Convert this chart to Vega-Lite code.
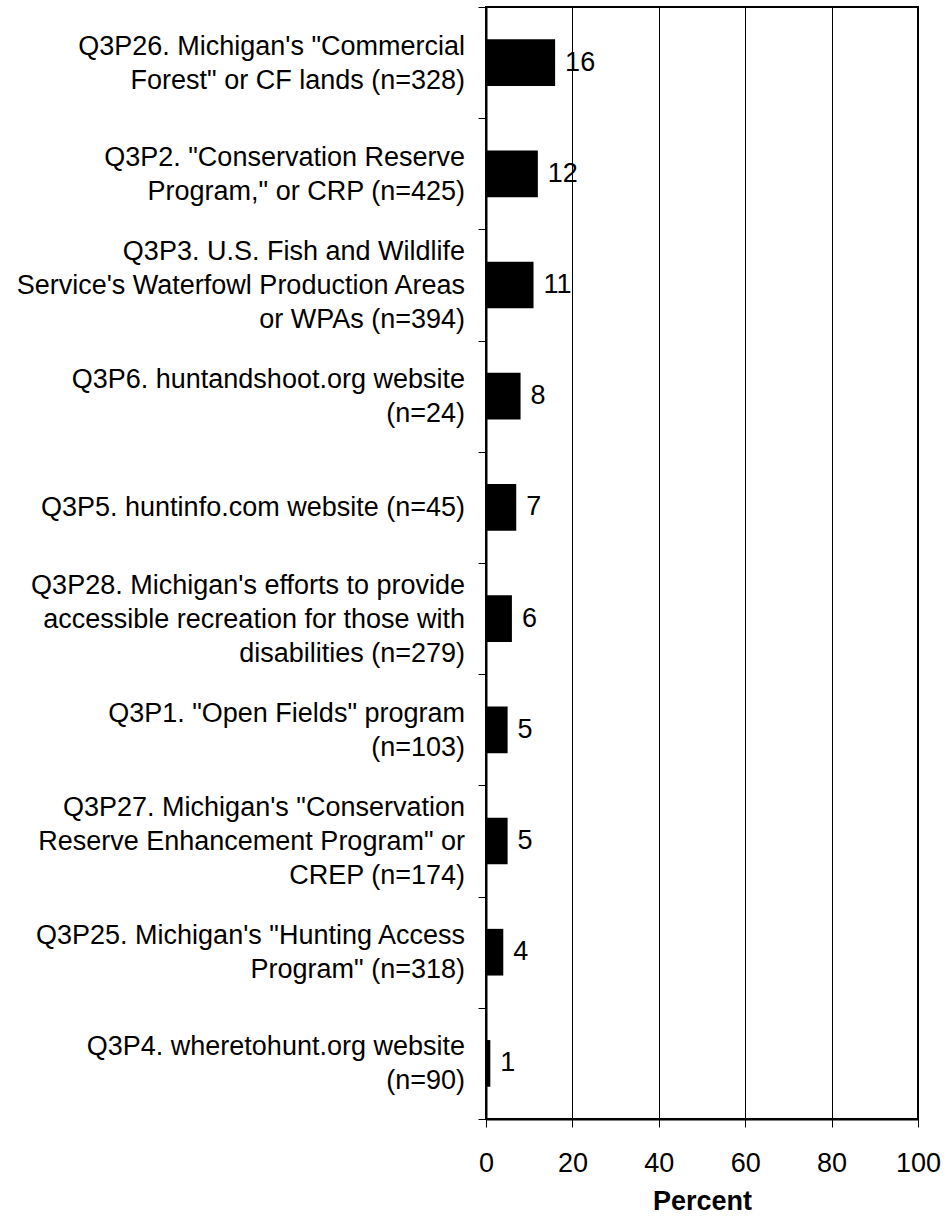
{
  "$schema": "https://vega.github.io/schema/vega-lite/v6.json",
  "width": 432,
  "height": 1112,
  "padding": {"left": 15, "top": 6, "right": 5, "bottom": 5},
  "background": "white",
  "config": {
    "font": "Liberation Sans",
    "view": {"stroke": "black", "strokeWidth": 2}
  },
  "data": {
    "values": [
      {"label": "Q3P26. Michigan's \"Commercial\nForest\" or CF lands (n=328)", "pct": 16},
      {"label": "Q3P2. \"Conservation Reserve\nProgram,\" or CRP (n=425)", "pct": 12},
      {"label": "Q3P3. U.S. Fish and Wildlife\nService's Waterfowl Production Areas\nor WPAs (n=394)", "pct": 11},
      {"label": "Q3P6. huntandshoot.org website\n(n=24)", "pct": 8},
      {"label": "Q3P5. huntinfo.com website (n=45)", "pct": 7},
      {"label": "Q3P28. Michigan's efforts to provide\naccessible recreation for those with\ndisabilities (n=279)", "pct": 6},
      {"label": "Q3P1. \"Open Fields\" program\n(n=103)", "pct": 5},
      {"label": "Q3P27. Michigan's \"Conservation\nReserve Enhancement Program\" or\nCREP (n=174)", "pct": 5},
      {"label": "Q3P25. Michigan's \"Hunting Access\nProgram\" (n=318)", "pct": 4},
      {"label": "Q3P4. wheretohunt.org website\n(n=90)", "pct": 1}
    ]
  },
  "encoding": {
    "y": {
      "field": "label",
      "type": "nominal",
      "sort": null,
      "scale": {"paddingInner": 0, "paddingOuter": 0},
      "axis": {
        "title": null,
        "labels": false,
        "tickBand": "extent",
        "tickSize": 8,
        "tickColor": "black",
        "domainColor": "black",
        "domainWidth": 2,
        "grid": false
      }
    },
    "x": {
      "field": "pct",
      "type": "quantitative",
      "scale": {"domain": [0, 100], "nice": false},
      "axis": {
        "title": "Percent",
        "titleFontSize": 27,
        "titleFontWeight": "bold",
        "titleColor": "black",
        "titlePadding": 12,
        "values": [0, 20, 40, 60, 80, 100],
        "labelFontSize": 27,
        "labelColor": "black",
        "labelPadding": 23,
        "labelFlush": false,
        "tickSize": 8,
        "tickColor": "black",
        "domainColor": "black",
        "domainWidth": 2,
        "grid": true,
        "gridColor": "black",
        "gridOpacity": 1,
        "gridWidth": 1
      }
    }
  },
  "layer": [
    {"mark": {"type": "bar", "color": "black", "height": {"band": 0.42}}},
    {
      "mark": {"type": "text", "align": "left", "baseline": "middle", "dx": 10, "fontSize": 27, "color": "black"},
      "encoding": {"text": {"field": "pct", "type": "quantitative"}}
    },
    {
      "mark": {
        "type": "text",
        "align": "right",
        "baseline": "middle",
        "dx": -21,
        "dy": {"expr": "1 - (length(split(datum.label, '\\n')) - 1) * 17"},
        "text": {"expr": "split(datum.label, '\\n')"},
        "fontSize": 27,
        "lineHeight": 34,
        "color": "black"
      },
      "encoding": {
        "x": {"datum": 0, "type": "quantitative"}
      }
    }
  ]
}
